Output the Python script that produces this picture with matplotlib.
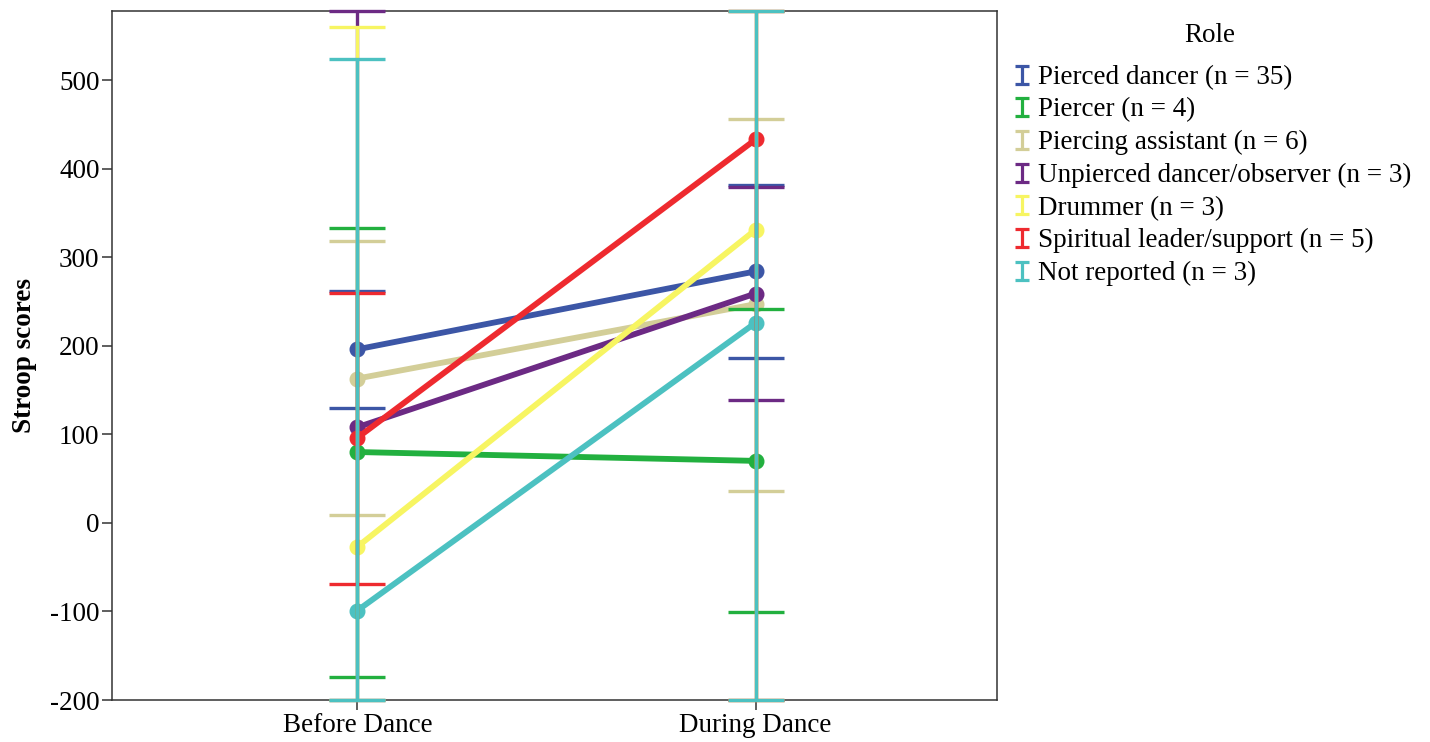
import matplotlib
matplotlib.use("Agg")
import matplotlib.pyplot as plt
from matplotlib.path import Path
from matplotlib.lines import Line2D

# ---- data ----
conditions = ["Before Dance", "During Dance"]
roles = ["Pierced dancer (n = 35)", "Piercer (n = 4)", "Piercing assistant (n = 6)",
         "Unpierced dancer/observer (n = 3)", "Drummer (n = 3)",
         "Spiritual leader/support (n = 5)", "Not reported (n = 3)"]
before_mean = [196, 80, 163, 108, -27, 96, -99]
during_mean = [284, 70, 247, 259, 331, 433, 226]
before_low = [130, -174, 9, -200, -200, -69, -200]
before_high = [262, 333, 318, 578, 560, 260, 524]
during_low = [186, -101, 36, 139, -200, -200, -200]
during_high = [382, 241, 456, 379, 578, 578, 578]
yticks = [-200, -100, 0, 100, 200, 300, 400, 500]

colors = ["#3c56a6", "#22b03f", "#d3ce98", "#6c2a84", "#f7f562", "#ee2a2f", "#4cc1c1"]

plt.rcParams['font.family'] = ['Liberation Serif', 'DejaVu Serif']
plt.rcParams['axes.unicode_minus'] = False

FS = 19.5

fig = plt.figure(figsize=(14.3, 7.42), dpi=100)
ax = fig.add_axes([112/1430, 1-700/742, (997-112)/1430, (700-11)/742])

x = [0, 1]
for i in range(len(roles)):
    ax.plot(x, [before_mean[i], during_mean[i]], color=colors[i], lw=4.2,
            marker='o', markersize=10.5, solid_capstyle='round', zorder=2)

for i in range(len(roles)):
    means = [before_mean[i], during_mean[i]]
    lows = [before_low[i], during_low[i]]
    highs = [before_high[i], during_high[i]]
    yerr = [[m - l for m, l in zip(means, lows)], [h - m for m, h in zip(means, highs)]]
    eb = ax.errorbar(x, means, yerr=yerr, fmt='none', ecolor=colors[i],
                     elinewidth=2.4, capsize=20.5, capthick=2.4, zorder=3)
    for art in list(eb.lines[1]) + list(eb.lines[2]):
        art.set_clip_on(False)

ax.set_xlim(-0.616, 1.606)
ax.set_ylim(-200, 578)
ax.set_xticks(x)
ax.set_xticklabels(conditions)
ax.set_yticks(yticks)
ax.tick_params(axis='both', labelsize=FS, direction='out', length=7, width=1.1,
               color='#333333', pad=2)
for s in ax.spines.values():
    s.set_color('#333333')
    s.set_linewidth(1.1)
ax.set_ylabel("Stroop scores", fontsize=FS, fontweight='bold', labelpad=9)

# legend with I-shaped error bar markers
ipath = Path([(-0.75, 1), (0.75, 1), (0, 1), (0, -1), (-0.75, -1), (0.75, -1)],
             [Path.MOVETO, Path.LINETO, Path.MOVETO, Path.LINETO, Path.MOVETO, Path.LINETO])
handles = [Line2D([], [], linestyle='none', marker=ipath, markersize=12.5,
                  markeredgecolor=c, markerfacecolor='none', markeredgewidth=2.3)
           for c in colors]
leg = fig.legend(handles, roles, loc='upper left', bbox_to_anchor=(1013.5/1430, 1-65/742),
                 frameon=False, fontsize=FS, handlelength=0.6, handletextpad=0.31,
                 labelspacing=0.28, borderpad=0, borderaxespad=0)
fig.text(1210/1430, 1-35/742, "Role", fontsize=FS, ha='center', va='center')

fig.savefig("out.png", dpi=100)
